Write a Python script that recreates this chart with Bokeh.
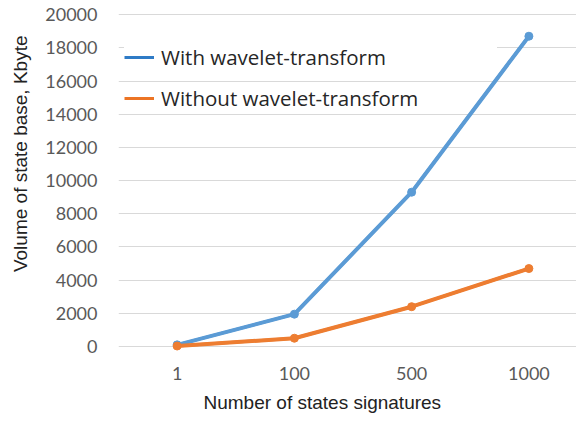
from bokeh.plotting import figure
from bokeh.models import Range1d, FixedTicker, Legend, LegendItem, Title
from bokeh.embed import file_html
from bokeh.resources import INLINE

categories = ["1", "100", "500", "1000"]
with_wavelet = [100, 1950, 9300, 18700]
without_wavelet = [30, 500, 2400, 4700]
y_ticks = list(range(0, 20001, 2000))
series_names = ["With wavelet-transform", "Without wavelet-transform"]
x_title = "Number of states signatures"
y_title = "Volume of state base, Kbyte"

xpos = list(range(len(categories)))

TICK_FONT = "Lato"
TITLE_FONT = "Liberation Sans"
LEGEND_FONT = "Open Sans"
BLUE = "#5B9BD5"
ORANGE = "#ED7D31"

p = figure(width=576, height=421, output_backend="svg", toolbar_location=None,
           x_range=Range1d(-0.5, 3.406), y_range=Range1d(-300, 20250),
           min_border_left=117, min_border_right=0, min_border_top=10,
           min_border_bottom=70)
p.outline_line_color = None
p.background_fill_color = "white"
p.border_fill_color = "white"

p.xgrid.grid_line_color = None
p.ygrid.grid_line_color = "#D9D9D9"
p.ygrid.grid_line_width = 1
p.ygrid.ticker = FixedTicker(ticks=y_ticks)

p.yaxis.ticker = FixedTicker(ticks=y_ticks)
p.xaxis.ticker = FixedTicker(ticks=xpos)
p.xaxis.major_label_overrides = {i: c for i, c in enumerate(categories)}

for ax in (p.xaxis[0], p.yaxis[0]):
    ax.axis_line_color = None
    ax.major_tick_line_color = None
    ax.minor_tick_line_color = None
    ax.major_tick_in = 0
    ax.major_tick_out = 0
    ax.minor_tick_in = 0
    ax.minor_tick_out = 0
    ax.major_label_text_font = TICK_FONT
    ax.major_label_text_font_size = "18px"
    ax.major_label_text_color = "#595959"

p.yaxis.major_label_standoff = 21
p.xaxis.major_label_standoff = 15

ytitle = Title(text=y_title, align="right", offset=25, vertical_align="top",
               standoff=19, text_font=TITLE_FONT, text_font_size="19px",
               text_font_style="normal", text_color="#222222")
p.add_layout(ytitle, "left")
xtitle = Title(text=x_title, align="left", offset=85, vertical_align="bottom",
               standoff=14, text_font=TITLE_FONT, text_font_size="19px",
               text_font_style="normal", text_color="#222222")
p.add_layout(xtitle, "below")

# legend renderers (drawn first, fully hidden under the series lines)
lg1 = p.line(xpos, with_wavelet, line_color="#2F7BC6", line_width=3)
lg2 = p.line(xpos, without_wavelet, line_color="#EC7424", line_width=3)

p.line(xpos, with_wavelet, line_color=BLUE, line_width=4)
p.scatter(xpos, with_wavelet, marker="circle", size=8, fill_color=BLUE, line_color=BLUE)
p.line(xpos, without_wavelet, line_color=ORANGE, line_width=4)
p.scatter(xpos, without_wavelet, marker="circle", size=8, fill_color=ORANGE, line_color=ORANGE)

common = dict(padding=0, margin=0, spacing=0, glyph_width=30, glyph_height=30,
              label_standoff=7, label_text_font=LEGEND_FONT,
              label_text_font_size="20.5px",
              label_text_color="#262626", border_line_color=None,
              background_fill_color="white", background_fill_alpha=1.0)

leg1 = Legend(items=[LegendItem(label=series_names[0], renderers=[lg1])],
              location=(6, 279), label_width=336, **common)
leg2 = Legend(items=[LegendItem(label=series_names[1], renderers=[lg2])],
              location=(6, 238), label_width=265, **common)
p.add_layout(leg1, "center")
p.add_layout(leg2, "center")

open("out.html", "w").write(file_html(p, INLINE))
